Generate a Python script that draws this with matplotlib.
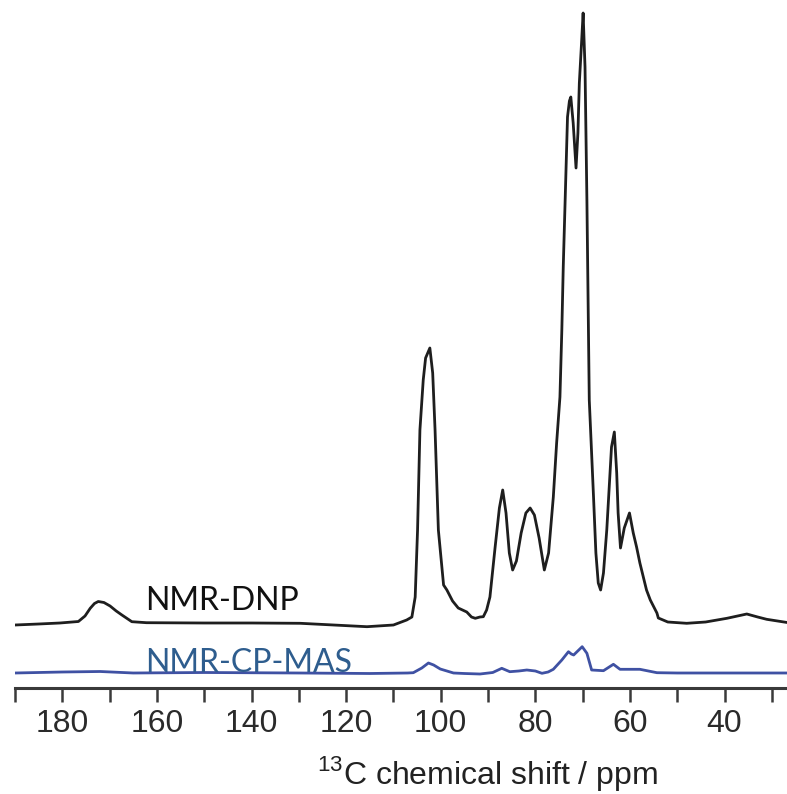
import matplotlib

matplotlib.use("Agg")
import matplotlib.pyplot as plt
from matplotlib.ticker import MultipleLocator

# 13C spectra: chemical shift (ppm) and intensity above baseline
DNP_PPM = [
    190, 185, 180.5, 176.6, 175.2, 174.1, 173.2, 172.4, 171.2, 169.9, 168.6, 167.4, 165.3, 162.2, 150, 140,
    129.7, 115.6, 110, 107.2, 106.1, 105.4, 104.9, 104.4, 103.7, 103.2, 102.3,
    101.7, 101.2, 100.5, 99.4, 98.7, 97.5, 96.3, 94.5, 93.5, 92.7, 91.7, 91.0,
    90.3, 89.6, 88.5, 87.6, 86.9, 86.2, 85.5, 84.8, 84.0, 83.0, 82.0, 81.1,
    80.2, 79.2, 78.1, 77.2, 76.2, 75.5, 74.8, 74.4, 74.1, 73.5, 73.2, 72.8,
    72.5, 72.0, 71.4, 71.0, 70.7, 70.2, 69.9, 69.5, 69.1, 68.6, 68.2, 67.7,
    67.2, 66.7, 66.2, 65.6, 64.9, 63.9, 63.3, 62.8, 62.5, 62.0, 61.2, 60.1,
    59.3, 58.6, 57.9, 56.5, 55.7, 54.3, 54.0, 52, 48, 44, 39.5, 35.3, 33,
    31.1, 26.5,
]
DNP_INT = [
    -2, -1, 0, 1.5, 7, 14.7, 19.5, 21.5, 20.5, 17, 12, 8, 1.3, 0.3, 0, 0,
    -0.3, -3.7, -2, 3, 6, 26, 93, 193, 243, 265, 275,
    250, 193, 93, 38, 33, 22, 15, 11, 6, 4.7, 6, 6.3,
    13, 26, 76, 115, 133, 110, 70, 53, 62, 90, 110, 115,
    108, 85, 53, 70, 126, 180, 226, 293, 356, 456, 506, 522,
    526, 500, 455, 490, 540, 583, 610, 556, 423, 223, 180, 126,
    70, 40, 33, 50, 93, 176, 191, 150, 110, 75, 95, 110,
    90, 76, 60, 33, 23, 10, 5, 1, -0.3, 1, 4.7, 9, 6,
    3.7, 0.3,
]
CPMAS_PPM = [
    190, 185, 180, 172, 165, 150, 130, 115, 107, 105.8, 104, 102.6, 101.5,
    100.1, 97.3, 95, 91.7, 89, 87.1, 85.4, 83.5, 81.8, 80, 78.6, 77.3, 76.2,
    74.4, 73.0, 72.4, 71.9, 70.1, 69.1, 68.1, 65.6, 63.5, 62.1, 57.9, 54.3,
    50, 40, 30, 26.5,
]
CPMAS_INT = [
    0, 0.5, 1, 1.5, 0, 0.5, 0, -0.5, 0, 0.3, 5, 10, 8,
    4, 0, -0.5, -1, 0.5, 4.7, 1.3, 2, 3, 2, -0.3, 1, 3.7,
    13, 21.3, 19, 18, 26.3, 19.7, 3, 2.3, 8.7, 3.7, 3.7, 0.3,
    0, 0, 0, 0,
]
SERIES_LABELS = ["NMR-DNP", "NMR-CP-MAS"]
CPMAS_OFFSET = -50

plt.rcParams["mathtext.fontset"] = "custom"
plt.rcParams["mathtext.rm"] = "Liberation Sans"

fig = plt.figure(figsize=(7.87, 7.94), dpi=100)
ax = fig.add_axes([15 / 787, 106 / 794, 1 - 15 / 787, 688 / 794])

ax.plot(DNP_PPM, DNP_INT, color="#1e1e1e", lw=2.0, solid_joinstyle="round")
ax.plot(CPMAS_PPM, [v + CPMAS_OFFSET for v in CPMAS_INT], color="#3f51a3", lw=2.0,
        solid_joinstyle="round")

ax.set_xlim(190, 26.8)
ax.set_ylim(-65, 623)

for side in ("top", "right", "left"):
    ax.spines[side].set_visible(False)
ax.spines["bottom"].set_linewidth(2.2)
ax.spines["bottom"].set_color("#3a3a3a")
ax.set_yticks([])
ax.xaxis.set_major_locator(MultipleLocator(20))
ax.xaxis.set_minor_locator(MultipleLocator(10))
ax.tick_params(axis="x", which="both", direction="out", length=10, width=1.8,
               color="#3a3a3a")
ax.tick_params(axis="x", which="major", pad=5, labelsize=23, labelcolor="#2a2a2a")
for lbl in ax.get_xticklabels():
    lbl.set_family("Liberation Sans")

ax.text(162.5, 13, SERIES_LABELS[0], family="Lato", fontsize=23, color="#111111",
        va="baseline", ha="left")
ax.text(162.5, -49, SERIES_LABELS[1], family="Lato", fontsize=23, color="#2e5d8e",
        va="baseline", ha="left")

fig.text(487 / 787, 10 / 794, "$^{13}$C chemical shift / ppm", family="Liberation Sans",
         fontsize=23, color="#222222", ha="center", va="baseline")

fig.savefig("out.png", dpi=100)
